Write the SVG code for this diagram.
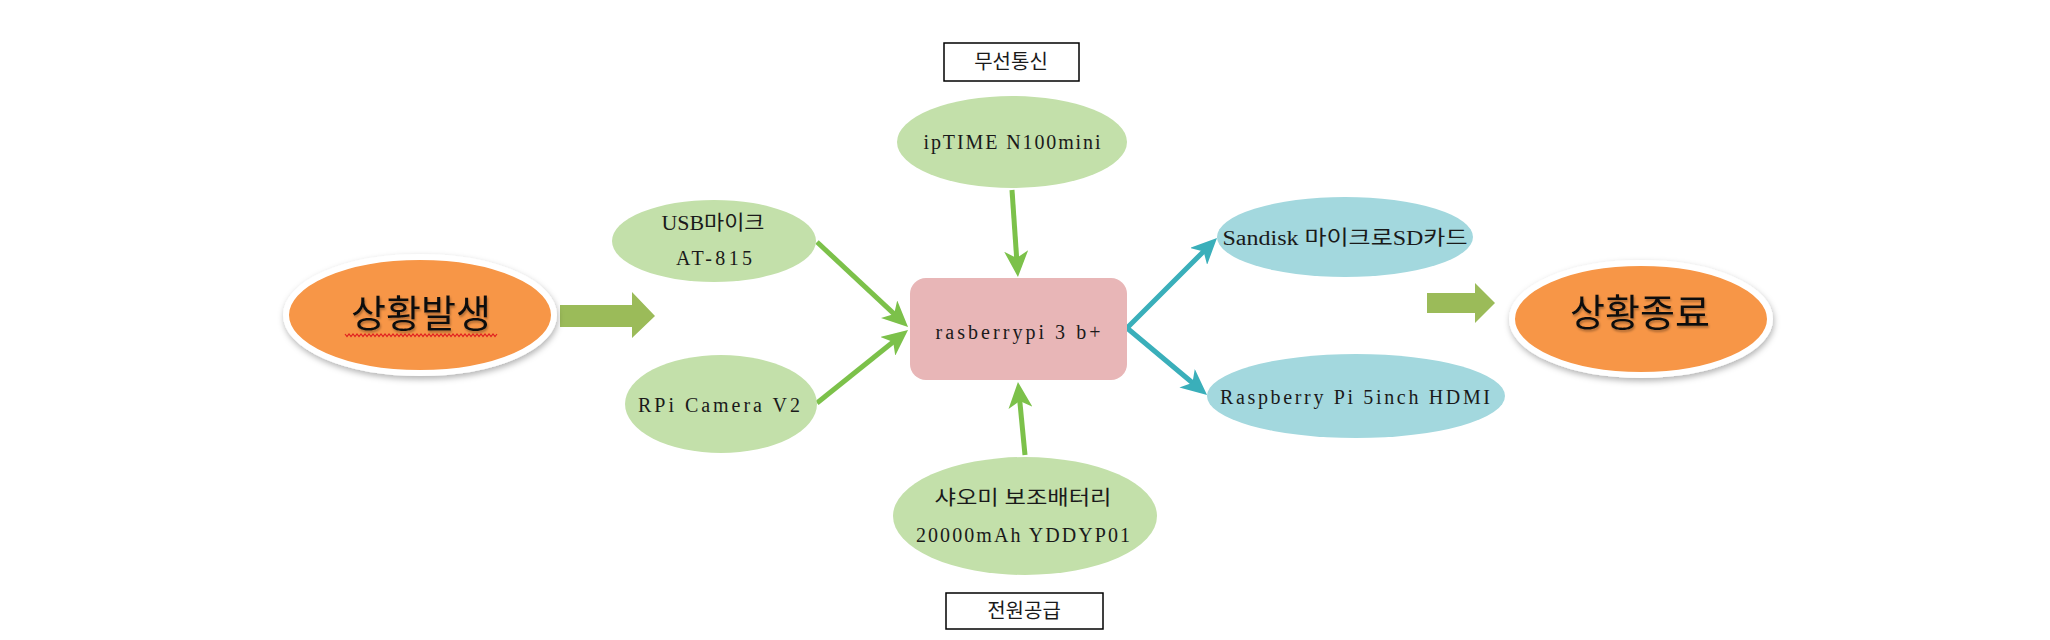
<svg xmlns="http://www.w3.org/2000/svg" width="2050" height="640" viewBox="0 0 2050 640">
<style>
.lbl{font-family:"Liberation Serif","Noto Sans CJK KR",serif;font-size:20px;fill:#1a1a1a;text-anchor:middle}
.kr{font-family:"Noto Sans CJK KR","Noto Sans",sans-serif;font-size:20px;fill:#1a1a1a;text-anchor:middle}
.big{font-family:"Noto Sans CJK KR","Noto Sans",sans-serif;font-size:38px;font-weight:400;fill:#111;text-anchor:middle}
.gEll{fill:#C3E0AA}
.tEll{fill:#A3D8DE}
.oEll{fill:#F79646;stroke:#fff;stroke-width:6}
.gLine{stroke:#7CC14A;stroke-width:5;fill:none;marker-end:url(#ag)}
.tLine{stroke:#3AAFBA;stroke-width:5;fill:none;stroke-linecap:round;marker-end:url(#at)}
.block{fill:#9BBB59}
.box{fill:#fff;stroke:#000;stroke-width:1.5}
</style>
<defs>
<marker id="ag" markerUnits="userSpaceOnUse" markerWidth="26" markerHeight="24" refX="12" refY="12" orient="auto" viewBox="0 0 26 24">
<path d="M0,0 L26,12 L0,24 L7,12 z" fill="#7CC14A"/>
</marker>
<marker id="at" markerUnits="userSpaceOnUse" markerWidth="26" markerHeight="24" refX="12" refY="12" orient="auto" viewBox="0 0 26 24">
<path d="M0,0 L26,12 L0,24 L7,12 z" fill="#3AAFBA"/>
</marker>
<filter id="sh" x="-20%" y="-20%" width="140%" height="150%">
<feDropShadow dx="1" dy="3" stdDeviation="3" flood-color="#000" flood-opacity="0.3"/>
</filter>
<filter id="tsh" x="-10%" y="-20%" width="120%" height="150%">
<feDropShadow dx="1" dy="2" stdDeviation="1.2" flood-color="#000" flood-opacity="0.3"/>
</filter>
</defs>

<g id="connectors">
<polygon class="block" points="560,305 632,305 632,292 655,316 632,338 632,327 560,327"/>
<polygon class="block" points="1427,293 1475,293 1475,283 1495,303 1475,323 1475,313 1427,313"/>
<line class="gLine" x1="817" y1="242" x2="897.8" y2="317.4"/>
<line class="gLine" x1="817" y1="403" x2="897.1" y2="338.8"/>
<line class="gLine" x1="1012" y1="190" x2="1017" y2="263"/>
<line class="gLine" x1="1025" y1="455" x2="1019.3" y2="395.9"/>
<line class="tLine" x1="1127" y1="328" x2="1207.1" y2="247.9"/>
<line class="tLine" x1="1127" y1="328" x2="1196.3" y2="386"/>
</g>

<g id="start">
<ellipse class="oEll" cx="420" cy="315" rx="134" ry="58" filter="url(#sh)"/>
<text class="big" x="421" y="327" filter="url(#tsh)">상황발생</text>
<polyline points="345,334 347,336.5 349,334 351,336.5 353,334 355,336.5 357,334 359,336.5 361,334 363,336.5 365,334 367,336.5 369,334 371,336.5 373,334 375,336.5 377,334 379,336.5 381,334 383,336.5 385,334 387,336.5 389,334 391,336.5 393,334 395,336.5 397,334 399,336.5 401,334 403,336.5 405,334 407,336.5 409,334 411,336.5 413,334 415,336.5 417,334 419,336.5 421,334 423,336.5 425,334 427,336.5 429,334 431,336.5 433,334 435,336.5 437,334 439,336.5 441,334 443,336.5 445,334 447,336.5 449,334 451,336.5 453,334 455,336.5 457,334 459,336.5 461,334 463,336.5 465,334 467,336.5 469,334 471,336.5 473,334 475,336.5 477,334 479,336.5 481,334 483,336.5 485,334 487,336.5 489,334 491,336.5 493,334 495,336.5 497,334" fill="none" stroke="#E02020" stroke-width="1.2"/>
</g>

<g id="usb-mic">
<ellipse class="gEll" cx="714" cy="241" rx="102" ry="41"/>
<text class="lbl" x="713" y="230" textLength="103" lengthAdjust="spacingAndGlyphs">USB마이크</text>
<text class="lbl" x="714" y="265" textLength="76" lengthAdjust="spacing">AT-815</text>
</g>

<g id="camera">
<ellipse class="gEll" cx="721" cy="404" rx="96" ry="49"/>
<text class="lbl" x="719" y="412" textLength="162" lengthAdjust="spacing">RPi Camera V2</text>
</g>

<g id="wifi-label">
<rect class="box" x="944" y="43" width="135" height="38"/>
<text class="kr" x="1011" y="69">무선통신</text>
</g>

<g id="wifi">
<ellipse class="gEll" cx="1012" cy="142" rx="115" ry="46"/>
<text class="lbl" x="1012" y="149" textLength="177" lengthAdjust="spacing">ipTIME N100mini</text>
</g>

<g id="rpi">
<rect x="910" y="278" width="217" height="102" rx="16" fill="#E8B6B7"/>
<text class="lbl" x="1018" y="339" textLength="165" lengthAdjust="spacing">rasberrypi 3 b+</text>
</g>

<g id="battery">
<ellipse class="gEll" cx="1025" cy="516" rx="132" ry="59"/>
<text class="lbl" x="1023" y="505" textLength="177" lengthAdjust="spacingAndGlyphs">샤오미 보조배터리</text>
<text class="lbl" x="1023" y="542" textLength="214" lengthAdjust="spacing">20000mAh YDDYP01</text>
</g>

<g id="power-label">
<rect class="box" x="946" y="593" width="157" height="36"/>
<text class="kr" x="1024" y="618">전원공급</text>
</g>

<g id="sdcard">
<ellipse class="tEll" cx="1345" cy="237" rx="128" ry="40"/>
<text class="lbl" x="1345" y="245" textLength="245" lengthAdjust="spacingAndGlyphs">Sandisk 마이크로SD카드</text>
</g>

<g id="display">
<ellipse class="tEll" cx="1356" cy="396" rx="149" ry="42"/>
<text class="lbl" x="1355" y="404" textLength="270" lengthAdjust="spacing">Raspberry Pi 5inch HDMI</text>
</g>

<g id="end">
<ellipse class="oEll" cx="1641" cy="319" rx="129" ry="56" filter="url(#sh)"/>
<text class="big" x="1640" y="326" filter="url(#tsh)">상황종료</text>
</g>
</svg>
